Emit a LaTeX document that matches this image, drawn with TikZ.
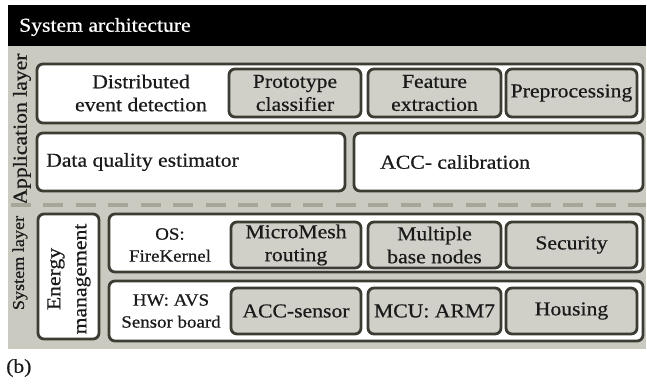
\documentclass[tikz,border=0pt]{standalone}
\usepackage{fontspec}
\setmainfont[FakeStretch=1.1,FakeBold=0.6]{Liberation Serif}
\definecolor{panel}{HTML}{CBCAC1}
\definecolor{inner}{HTML}{D1D0C8}
\definecolor{edge}{HTML}{3C3C32}
\definecolor{dashc}{HTML}{A8A699}
\definecolor{ink}{HTML}{1A1A1A}
\tikzset{
  mainfont/.style={font=\fontsize{19.7}{23}\selectfont},
  smallfont/.style={font=\fontsize{17.2}{22}\selectfont},
  box/.style={draw=edge, line width=2.8pt, rounded corners=6pt, inner sep=0pt,
    text=ink, align=center, mainfont},
  wbox/.style={box, fill=white},
  gbox/.style={box, fill=inner},
  txt/.style={text=ink, inner sep=0pt, align=center, mainfont},
  stxt/.style={txt, smallfont},
}
\begin{document}
\begin{tikzpicture}[x=1pt,y=-1pt]
\useasboundingbox (0,0) rectangle (647,385);
% header and panel
\node[fill=black, minimum width=638pt, minimum height=41pt, inner sep=0pt] (hdr) at (327,25.5) {};
\node[txt, text=white, anchor=west] (title) at (19,27) {System architecture};
\node[fill=panel, minimum width=638pt, minimum height=303pt, inner sep=0pt] (panel) at (327,197.5) {};
% application layer
\node[txt, rotate=90] (applbl) at (22,129) {Application layer};
\node[wbox, minimum width=606pt, minimum height=59pt] (app1) at (340,93.5) {};
\node[txt] (ded) at (141,93) {Distributed\\event detection};
\node[gbox, minimum width=132pt, minimum height=48pt] (proto) at (295,93) {Prototype\\classifier};
\node[gbox, minimum width=133pt, minimum height=48pt] (feat) at (434.5,93) {Feature\\extraction};
\node[gbox, minimum width=131pt, minimum height=48pt] (prep) at (571.5,93) {Preprocessing};
\node[wbox, minimum width=308pt, minimum height=58pt] (dqe) at (191,162) {};
\node[txt, anchor=west] (dqet) at (46,162) {Data quality estimator};
\node[wbox, minimum width=289pt, minimum height=58pt] (accc) at (498.5,162) {};
\node[txt, anchor=west] (accct) at (380,162) {ACC- calibration};
% separator
\coordinate (dl) at (8,205);
\coordinate (dr) at (646,205);
\draw[dashc, line width=3.5pt, dash pattern=on 20pt off 12.5pt, dash phase=29.7pt] (dl) -- (dr);
% system layer
\node[txt, rotate=90, font=\fontsize{16.5}{18}\selectfont] (syslbl) at (20,263) {System layer};
\node[wbox, minimum width=61pt, minimum height=125pt] (energy) at (68.5,276.5) {};
\node[txt, rotate=90, font=\fontsize{19.7}{26}\selectfont] (energyt) at (69,279) {Energy\\management};
\node[wbox, minimum width=534pt, minimum height=58pt] (osrow) at (376,243) {};
\node[stxt] (ost) at (170,245) {OS:\\FireKernel};
\node[gbox, minimum width=130pt, minimum height=46pt] (mesh) at (296,245) {MicroMesh\\routing};
\node[gbox, minimum width=133pt, minimum height=46pt] (multi) at (434.5,245) {Multiple\\base nodes};
\node[gbox, minimum width=131pt, minimum height=46pt] (sec) at (571.5,245) {Security};
\node[wbox, minimum width=534pt, minimum height=60pt] (hwrow) at (376,311) {};
\node[stxt] (hwt) at (171,311) {HW: AVS\\Sensor board};
\node[gbox, minimum width=130pt, minimum height=46pt] (accs) at (296,311) {ACC-sensor};
\node[gbox, minimum width=133pt, minimum height=46pt] (mcu) at (434.5,311) {MCU: ARM7};
\node[gbox, minimum width=131pt, minimum height=46pt] (house) at (571.5,311) {Housing};
% caption
\node[txt, anchor=west] (cap) at (6,368) {(b)};
\end{tikzpicture}
\end{document}
